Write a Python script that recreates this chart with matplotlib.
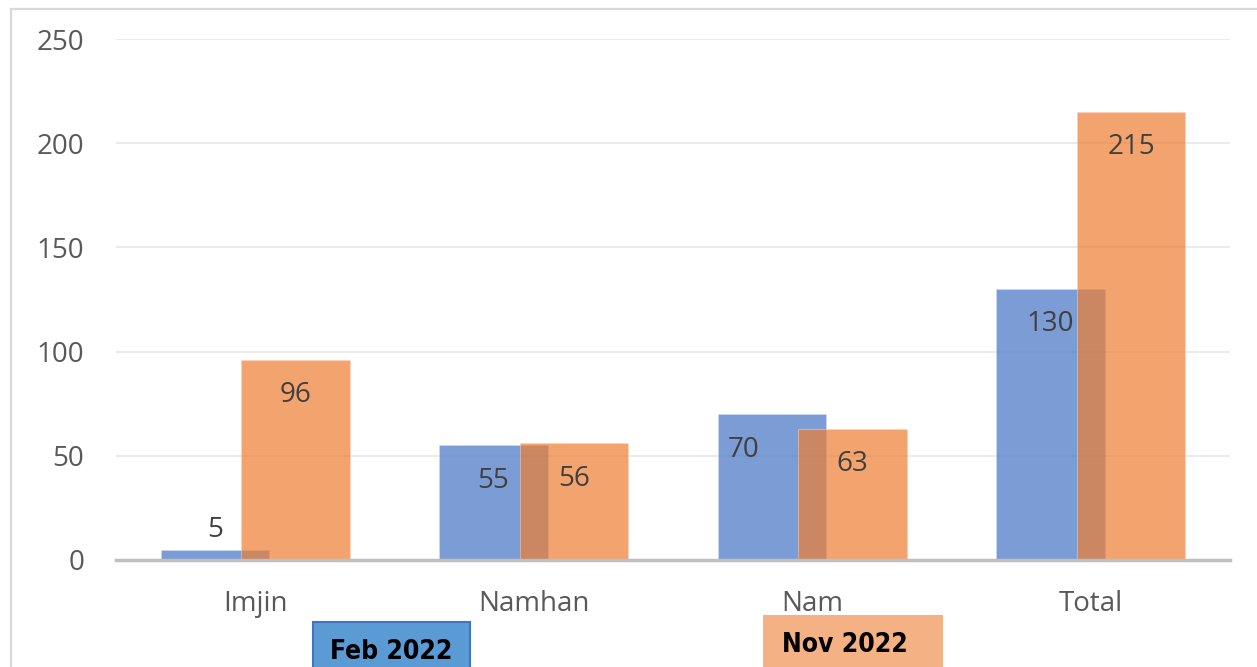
import matplotlib
matplotlib.use('Agg')
import numpy as np
import matplotlib.pyplot as plt
from matplotlib.patches import Rectangle

categories = ['Imjin', 'Namhan', 'Nam', 'Total']
feb_2022 = [5, 55, 70, 130]
nov_2022 = [96, 56, 63, 215]
series_names = ['Feb 2022', 'Nov 2022']
yticks = [0, 50, 100, 150, 200, 250]

W, H = 1257, 667
fig = plt.figure(figsize=(W / 100, H / 100), dpi=100)

# outer chart frame (light grey, runs off right/bottom)
fig.patches.append(Rectangle((11 / W, -0.05), 1.1, 1 - 9 / H + 0.05, transform=fig.transFigure,
                             fill=False, edgecolor='#D9D9D9', linewidth=1.6, zorder=0))

ax = fig.add_axes([116 / W, 107 / H, (1230 - 116) / W, (560 - 39) / H])

x = np.arange(len(categories))
bw = 0.39
off = 0.145
ax.bar(x - off, feb_2022, bw, color='#4472C4', alpha=0.7, edgecolor='#D5DFF3', linewidth=0.5, zorder=2)
ax.bar(x + off, nov_2022, bw, color='#ED7D31', alpha=0.7, edgecolor='#F9D5BC', linewidth=0.5, zorder=3)

ax.set_xlim(-0.5, 3.5)
ax.set_ylim(0, 250)
ax.set_yticks(yticks)
ax.set_xticks(x)
ax.set_xticklabels(categories)
ax.tick_params(axis='both', length=0, labelsize=20, labelcolor='#595959')
ax.tick_params(axis='y', pad=23)
ax.tick_params(axis='x', pad=21.5)
for lab in ax.get_xticklabels() + ax.get_yticklabels():
    lab.set_fontfamily('Open Sans')
ax.yaxis.grid(True, color='#EBEBEB', linewidth=1.5, zorder=0)
ax.set_axisbelow(True)
for s in ['top', 'right', 'left']:
    ax.spines[s].set_visible(False)
ax.spines['bottom'].set_color('#BFBFBF')
ax.spines['bottom'].set_linewidth(2.5)
ax.spines['bottom'].set_zorder(5)

# data labels: inside end, small bar gets its label above
lab_kw = dict(ha='center', va='center', fontsize=20, color='#404040', family='Open Sans', zorder=6)
for i, v in enumerate(feb_2022):
    dx = -20 if categories[i] == 'Nam' else 0
    dy = 14 if v < 20 else -25.5
    ax.annotate(str(v), (i - off, v), xytext=(dx, dy), textcoords='offset points', **lab_kw)
for i, v in enumerate(nov_2022):
    ax.annotate(str(v), (i + off, v), xytext=(0, -25.5), textcoords='offset points', **lab_kw)

# legend boxes drawn as text boxes below the axis
fig.patches.append(Rectangle((313 / W, -0.05), 157 / W, (667 - 622) / H + 0.05, transform=fig.transFigure,
                             facecolor='#5B9BD5', edgecolor='#4472C4', linewidth=1.5, zorder=1))
fig.patches.append(Rectangle((763 / W, -0.05), 180 / W, (667 - 615) / H + 0.05, transform=fig.transFigure,
                             facecolor='#F4B183', edgecolor='none', zorder=1))
leg_kw = dict(ha='center', va='center', fontsize=19, fontweight='bold', fontstretch='condensed',
              family='DejaVu Sans', color='black')
fig.text(391 / W, 1 - 652 / H, series_names[0], **leg_kw)
fig.text(845 / W, 1 - 645 / H, series_names[1], **leg_kw)

fig.savefig('out.png', dpi=100)
